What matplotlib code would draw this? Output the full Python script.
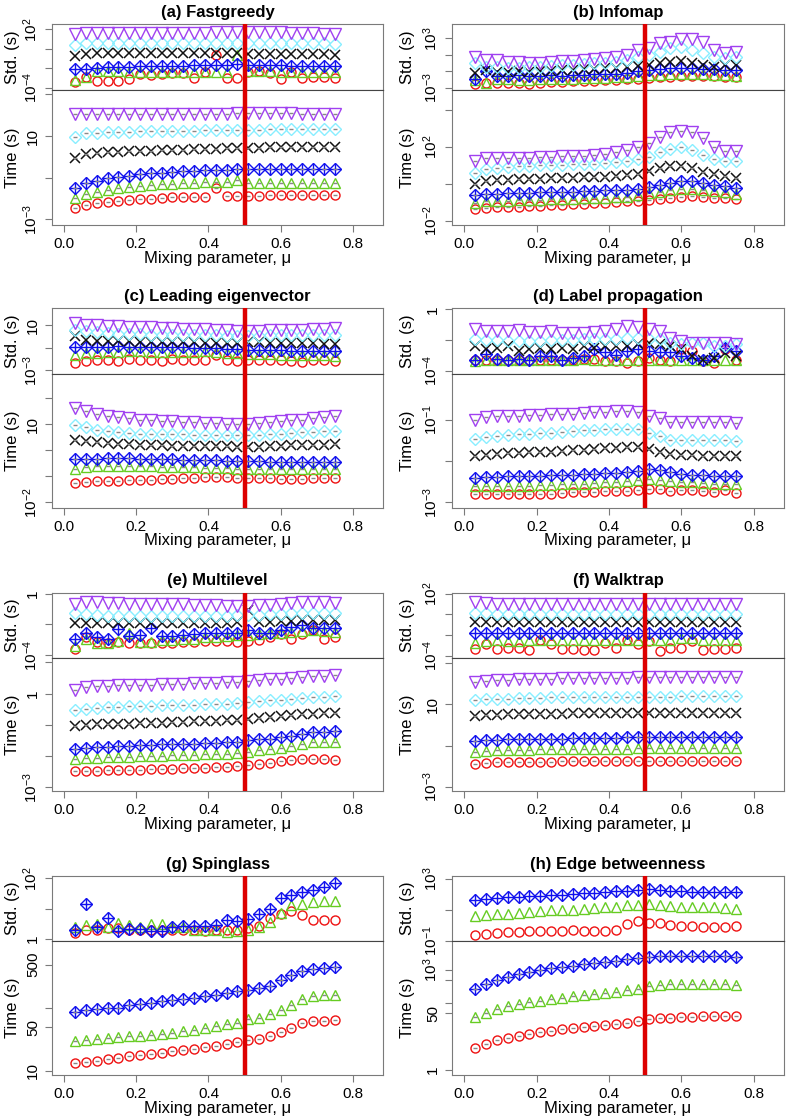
import numpy as np
import matplotlib
matplotlib.use("Agg")
import matplotlib.pyplot as plt
from matplotlib.ticker import NullLocator

plt.rcParams['font.family'] = ['Liberation Sans', 'DejaVu Sans']
plt.rcParams['mathtext.fontset'] = 'custom'
plt.rcParams['mathtext.rm'] = 'Liberation Sans'
plt.rcParams['mathtext.it'] = 'Liberation Sans:italic'
plt.rcParams['mathtext.bf'] = 'Liberation Sans:bold'

# mixing parameter values
mu = [0.03, 0.06, 0.09, 0.12, 0.15, 0.18, 0.21, 0.24, 0.27, 0.30, 0.33, 0.36, 0.39,
      0.42, 0.45, 0.48, 0.51, 0.54, 0.57, 0.60, 0.63, 0.66, 0.69, 0.72, 0.75]

# all values below are log10 of seconds

# (a) Fastgreedy
a_time_purple = [2.04, 2.06, 2.07, 2.06, 2.06, 2.05, 2.05, 2.05, 2.06, 2.06, 2.07, 2.07, 2.07, 2.08, 2.08, 2.10, 2.10, 2.11, 2.12, 2.10, 2.10, 2.08, 2.07, 2.06, 2.05]
a_time_cyan = [0.97, 1.13, 1.16, 1.19, 1.21, 1.21, 1.22, 1.22, 1.24, 1.24, 1.26, 1.26, 1.27, 1.29, 1.29, 1.30, 1.30, 1.30, 1.32, 1.32, 1.32, 1.32, 1.32, 1.32, 1.32]
a_time_black = [-0.07, 0.14, 0.20, 0.23, 0.25, 0.26, 0.28, 0.30, 0.31, 0.33, 0.34, 0.36, 0.38, 0.39, 0.41, 0.42, 0.44, 0.44, 0.46, 0.46, 0.47, 0.47, 0.49, 0.49, 0.49]
a_time_blue = [-1.48, -1.27, -1.14, -1.03, -0.95, -0.90, -0.82, -0.79, -0.76, -0.73, -0.70, -0.66, -0.65, -0.63, -0.62, -0.60, -0.60, -0.60, -0.60, -0.60, -0.60, -0.60, -0.60, -0.60, -0.60]
a_time_green = [-1.99, -1.78, -1.67, -1.59, -1.51, -1.46, -1.40, -1.35, -1.32, -1.29, -1.26, -1.24, -1.21, -1.21, -1.19, -1.11, -1.24, -1.24, -1.24, -1.24, -1.24, -1.24, -1.24, -1.24, -1.24]
a_time_red = [-2.47, -2.31, -2.23, -2.18, -2.14, -2.07, -2.04, -2.01, -1.98, -1.94, -1.91, -1.91, -1.91, -1.48, -1.88, -1.88, -1.86, -1.86, -1.85, -1.85, -1.83, -1.85, -1.85, -1.85, -1.85]
a_std_purple = [1.52, 1.59, 1.62, 1.66, 1.66, 1.66, 1.62, 1.62, 1.62, 1.62, 1.66, 1.66, 1.66, 1.69, 1.69, 1.69, 1.69, 1.73, 1.73, 1.69, 1.66, 1.62, 1.59, 1.55, 1.52]
a_std_cyan = [0.39, 0.56, 0.63, 0.63, 0.63, 0.63, 0.63, 0.63, 0.63, 0.63, 0.63, 0.63, 0.63, 0.63, 0.63, 0.56, 0.63, 0.63, 0.63, 0.63, 0.63, 0.63, 0.63, 0.56, 0.49]
a_std_black = [-0.74, -0.50, -0.47, -0.47, -0.47, -0.47, -0.47, -0.47, -0.47, -0.47, -0.47, -0.47, -0.47, -0.47, -0.47, -0.47, -0.50, -0.50, -0.50, -0.50, -0.50, -0.50, -0.50, -0.55, -0.64]
a_std_blue = [-2.11, -2.05, -1.98, -1.91, -1.84, -1.84, -1.77, -1.77, -1.77, -1.77, -1.74, -1.70, -1.70, -1.67, -1.67, -1.60, -1.67, -1.70, -1.70, -1.70, -1.74, -1.74, -1.74, -1.74, -1.74]
a_std_green = [-3.21, -2.94, -2.25, -2.25, -2.25, -2.35, -2.35, -2.35, -2.35, -2.35, -2.35, -2.35, -2.35, -2.35, -2.35, -0.64, -2.25, -2.25, -2.25, -2.35, -2.35, -2.35, -2.35, -2.35, -2.35]
a_std_red = [-3.38, -2.94, -3.28, -3.28, -3.28, -3.14, -2.59, -2.70, -2.59, -2.53, -2.46, -3.04, -2.35, -0.64, -3.04, -3.04, -2.35, -2.25, -2.46, -3.14, -2.35, -3.04, -2.87, -2.94, -3.04]

# (b) Infomap
b_time_purple = [1.23, 1.38, 1.41, 1.41, 1.41, 1.41, 1.43, 1.45, 1.47, 1.49, 1.51, 1.54, 1.60, 1.69, 1.82, 1.96, 2.18, 2.51, 2.82, 2.84, 2.77, 2.47, 1.96, 1.78, 1.74]
b_time_cyan = [0.59, 0.78, 0.87, 0.92, 0.96, 0.98, 0.99, 1.01, 1.03, 1.05, 1.07, 1.09, 1.12, 1.16, 1.20, 1.32, 1.45, 1.69, 1.87, 1.96, 1.82, 1.56, 1.31, 1.23, 1.20]
b_time_black = [-0.01, 0.14, 0.17, 0.21, 0.23, 0.25, 0.26, 0.28, 0.30, 0.32, 0.34, 0.36, 0.37, 0.41, 0.45, 0.50, 0.68, 0.87, 0.96, 0.98, 0.87, 0.65, 0.50, 0.41, 0.32]
b_time_blue = [-0.59, -0.56, -0.54, -0.52, -0.50, -0.50, -0.48, -0.47, -0.45, -0.43, -0.41, -0.39, -0.37, -0.36, -0.34, -0.27, -0.16, -0.05, 0.05, 0.14, 0.14, 0.05, -0.05, -0.14, -0.23]
b_time_green = [-1.05, -0.96, -0.94, -0.92, -0.90, -0.89, -0.87, -0.85, -0.83, -0.81, -0.79, -0.78, -0.76, -0.74, -0.72, -0.63, -0.52, -0.45, -0.36, -0.28, -0.27, -0.32, -0.41, -0.48, -0.54]
b_time_red = [-1.36, -1.32, -1.29, -1.27, -1.25, -1.23, -1.20, -1.18, -1.14, -1.11, -1.09, -1.05, -1.03, -1.00, -0.96, -0.92, -0.87, -0.81, -0.78, -0.72, -0.69, -0.72, -0.76, -0.78, -0.81]
b_std_purple = [0.77, 0.36, 0.36, 0.16, 0.08, -0.04, -0.04, 0.16, 0.24, 0.24, 0.36, 0.45, 0.57, 0.69, 0.97, 1.58, 1.78, 2.39, 2.59, 2.88, 2.88, 2.59, 1.58, 1.17, 1.38]
b_std_cyan = [-0.04, -0.45, -0.45, -0.65, -0.57, -0.45, -0.45, -0.33, -0.25, -0.25, -0.17, -0.04, 0.04, 0.16, 0.36, 0.77, 0.97, 1.38, 1.78, 1.98, 1.58, 1.17, 0.77, 0.57, 0.69]
b_std_black = [-1.26, -0.85, -1.06, -1.06, -0.98, -1.06, -0.98, -0.93, -0.85, -0.85, -0.77, -0.77, -0.65, -0.65, -0.45, -0.37, -0.25, 0.04, 0.16, 0.28, 0.04, -0.25, -0.45, -0.25, -0.25]
b_std_blue = [-1.99, -0.93, -1.58, -1.58, -1.46, -1.58, -1.58, -1.50, -1.58, -1.50, -1.46, -1.38, -1.34, -1.34, -1.26, -0.98, -0.85, -0.77, -0.65, -0.65, -0.65, -0.77, -0.77, -0.85, -0.85]
b_std_green = [-2.07, -2.47, -1.99, -1.99, -2.07, -2.07, -1.99, -1.99, -1.99, -1.91, -1.87, -1.87, -1.79, -1.74, -1.66, -1.58, -1.46, -1.46, -1.34, -1.34, -1.34, -1.38, -1.46, -1.46, -1.58]
b_std_red = [-2.60, -2.47, -2.39, -2.39, -2.47, -2.55, -2.47, -2.31, -2.27, -2.19, -2.19, -2.15, -2.07, -2.07, -1.99, -1.99, -1.87, -1.74, -1.66, -1.58, -1.58, -1.58, -1.58, -1.66, -1.74]

# (c) Leading eigenvector
c_time_purple = [1.61, 1.51, 1.40, 1.32, 1.27, 1.22, 1.17, 1.14, 1.12, 1.10, 1.09, 1.06, 1.04, 1.04, 1.01, 1.01, 1.00, 1.04, 1.06, 1.10, 1.14, 1.17, 1.23, 1.27, 1.30]
c_time_cyan = [0.95, 0.89, 0.78, 0.72, 0.69, 0.66, 0.63, 0.63, 0.62, 0.61, 0.61, 0.59, 0.59, 0.58, 0.58, 0.57, 0.57, 0.58, 0.61, 0.63, 0.66, 0.68, 0.71, 0.72, 0.72]
c_time_black = [0.38, 0.34, 0.31, 0.27, 0.25, 0.22, 0.21, 0.20, 0.18, 0.17, 0.17, 0.16, 0.15, 0.15, 0.15, 0.13, 0.12, 0.12, 0.15, 0.17, 0.18, 0.20, 0.21, 0.21, 0.22]
c_time_blue = [-0.34, -0.34, -0.33, -0.30, -0.30, -0.31, -0.33, -0.34, -0.34, -0.35, -0.37, -0.37, -0.38, -0.39, -0.40, -0.42, -0.43, -0.43, -0.44, -0.44, -0.44, -0.44, -0.44, -0.44, -0.44]
c_time_green = [-0.72, -0.66, -0.62, -0.60, -0.60, -0.60, -0.61, -0.62, -0.63, -0.65, -0.66, -0.66, -0.67, -0.68, -0.70, -0.71, -0.72, -0.72, -0.74, -0.74, -0.74, -0.74, -0.74, -0.74, -0.74]
c_time_red = [-1.28, -1.23, -1.20, -1.18, -1.17, -1.16, -1.14, -1.13, -1.11, -1.09, -1.08, -1.07, -1.05, -1.05, -1.05, -1.07, -1.07, -1.07, -1.08, -1.09, -1.09, -1.09, -1.08, -1.08, -1.08]
c_std_purple = [1.21, 1.06, 1.00, 0.97, 0.91, 0.88, 0.82, 0.82, 0.76, 0.73, 0.70, 0.70, 0.67, 0.61, 0.56, 0.53, 0.47, 0.53, 0.56, 0.56, 0.61, 0.61, 0.67, 0.70, 0.76]
c_std_cyan = [0.61, 0.47, 0.37, 0.32, 0.26, 0.23, 0.23, 0.17, 0.17, 0.17, 0.14, 0.11, 0.11, 0.11, 0.08, 0.08, 0.05, 0.08, 0.11, 0.11, 0.14, 0.14, 0.14, 0.14, 0.17]
c_std_black = [0.02, -0.27, -0.36, -0.36, -0.42, -0.42, -0.45, -0.48, -0.51, -0.51, -0.51, -0.51, -0.57, -0.57, -0.57, -0.57, -0.51, -0.51, -0.57, -0.57, -0.57, -0.57, -0.57, -0.63, -0.63]
c_std_blue = [-0.96, -0.96, -0.96, -0.90, -0.87, -0.90, -0.93, -0.93, -0.93, -0.96, -0.96, -0.99, -1.02, -1.02, -1.08, -1.10, -1.16, -1.16, -1.22, -1.22, -1.25, -1.25, -1.25, -1.28, -1.31]
c_std_green = [-1.61, -1.46, -1.46, -1.40, -1.34, -1.31, -1.31, -1.34, -1.40, -1.40, -1.37, -1.40, -1.31, -1.40, -1.46, -1.46, -1.52, -1.52, -1.58, -1.61, -1.61, -1.64, -1.64, -1.67, -1.70]
c_std_red = [-2.35, -2.14, -2.11, -2.11, -2.14, -1.99, -2.11, -2.11, -2.14, -1.99, -2.11, -2.11, -2.11, -1.60, -2.11, -2.14, -2.05, -2.05, -2.11, -2.11, -2.14, -2.29, -2.05, -2.05, -2.14]

# (d) Label propagation
d_time_purple = [-1.00, -0.94, -0.92, -0.90, -0.90, -0.89, -0.88, -0.87, -0.86, -0.85, -0.84, -0.82, -0.81, -0.78, -0.78, -0.82, -0.92, -0.96, -1.06, -1.06, -1.06, -1.06, -1.06, -1.06, -1.08]
d_time_cyan = [-1.47, -1.42, -1.39, -1.36, -1.35, -1.34, -1.32, -1.31, -1.29, -1.28, -1.26, -1.24, -1.23, -1.22, -1.22, -1.23, -1.31, -1.39, -1.48, -1.50, -1.50, -1.50, -1.50, -1.50, -1.51]
d_time_black = [-1.87, -1.85, -1.82, -1.81, -1.80, -1.79, -1.77, -1.77, -1.76, -1.74, -1.73, -1.71, -1.69, -1.68, -1.66, -1.65, -1.71, -1.77, -1.82, -1.85, -1.86, -1.87, -1.87, -1.87, -1.89]
d_time_blue = [-2.41, -2.40, -2.39, -2.37, -2.37, -2.37, -2.36, -2.35, -2.34, -2.33, -2.31, -2.31, -2.30, -2.29, -2.27, -2.25, -2.19, -2.23, -2.27, -2.31, -2.33, -2.35, -2.36, -2.36, -2.36]
d_time_green = [-2.61, -2.61, -2.61, -2.61, -2.60, -2.60, -2.59, -2.58, -2.57, -2.56, -2.55, -2.53, -2.52, -2.50, -2.48, -2.47, -2.44, -2.45, -2.48, -2.50, -2.52, -2.53, -2.55, -2.55, -2.56]
d_time_red = [-2.81, -2.81, -2.81, -2.81, -2.81, -2.80, -2.80, -2.79, -2.77, -2.76, -2.75, -2.74, -2.73, -2.73, -2.72, -2.71, -2.68, -2.69, -2.72, -2.71, -2.71, -2.73, -2.76, -2.71, -2.77]
d_std_purple = [-1.29, -1.40, -1.40, -1.40, -1.33, -1.47, -1.47, -1.40, -1.51, -1.51, -1.56, -1.47, -1.40, -1.29, -1.07, -1.18, -1.29, -1.40, -1.84, -2.07, -2.18, -2.22, -2.18, -2.22, -2.29]
d_std_cyan = [-1.91, -2.00, -2.00, -2.07, -2.07, -2.07, -2.07, -2.00, -2.00, -2.00, -1.96, -1.91, -1.91, -1.91, -1.84, -1.84, -1.91, -1.96, -2.18, -2.29, -2.18, -2.22, -2.36, -2.40, -2.29]
d_std_black = [-2.36, -2.62, -2.51, -2.40, -2.73, -2.62, -2.51, -2.62, -2.51, -2.62, -2.40, -2.51, -2.40, -2.40, -2.36, -2.29, -2.18, -2.29, -2.40, -2.62, -3.02, -3.29, -3.18, -2.84, -3.02]
d_std_blue = [-3.29, -2.89, -3.24, -3.29, -3.24, -3.29, -3.02, -3.02, -3.29, -3.18, -3.02, -2.58, -2.80, -2.96, -2.73, -2.58, -2.73, -2.80, -2.80, -3.07, -3.18, -3.29, -3.07, -2.51, -2.73]
d_std_green = [-3.38, -3.29, -3.29, -3.33, -3.33, -3.33, -3.29, -3.29, -3.29, -3.29, -3.24, -3.29, -3.29, -3.29, -3.33, -3.33, -3.29, -3.33, -3.33, -3.33, -3.33, -3.33, -3.33, -3.33, -3.33]
d_std_red = [-3.33, -3.29, -3.29, -3.33, -3.29, -3.33, -3.29, -3.29, -3.29, -3.29, -3.24, -3.24, -3.40, -3.40, -3.51, -3.40, -3.18, -3.29, -3.40, -2.62, -2.73, -3.40, -3.47, -2.62, -3.29]

# (e) Multilevel
e_time_purple = [0.13, 0.21, 0.23, 0.24, 0.26, 0.27, 0.28, 0.29, 0.30, 0.31, 0.32, 0.33, 0.34, 0.35, 0.36, 0.37, 0.39, 0.43, 0.46, 0.48, 0.50, 0.53, 0.55, 0.57, 0.59]
e_time_cyan = [-0.53, -0.48, -0.45, -0.43, -0.43, -0.41, -0.40, -0.39, -0.38, -0.37, -0.36, -0.35, -0.34, -0.33, -0.32, -0.30, -0.27, -0.23, -0.21, -0.19, -0.16, -0.14, -0.12, -0.11, -0.08]
e_time_black = [-1.03, -0.99, -0.98, -0.97, -0.96, -0.96, -0.95, -0.94, -0.93, -0.91, -0.90, -0.89, -0.88, -0.87, -0.86, -0.84, -0.80, -0.77, -0.74, -0.72, -0.69, -0.66, -0.64, -0.62, -0.61]
e_time_blue = [-1.77, -1.73, -1.71, -1.70, -1.68, -1.67, -1.66, -1.65, -1.63, -1.62, -1.61, -1.60, -1.59, -1.57, -1.55, -1.54, -1.49, -1.46, -1.44, -1.38, -1.35, -1.30, -1.24, -1.22, -1.21]
e_time_green = [-2.11, -2.07, -2.05, -2.04, -2.03, -2.02, -2.01, -2.00, -1.99, -1.98, -1.97, -1.96, -1.95, -1.94, -1.93, -1.89, -1.86, -1.81, -1.78, -1.73, -1.68, -1.62, -1.54, -1.54, -1.54]
e_time_red = [-2.48, -2.47, -2.47, -2.46, -2.45, -2.45, -2.44, -2.43, -2.41, -2.40, -2.39, -2.38, -2.37, -2.36, -2.34, -2.32, -2.29, -2.26, -2.21, -2.17, -2.13, -2.10, -2.10, -2.11, -2.12]
e_std_purple = [-0.66, -0.57, -0.57, -0.61, -0.61, -0.66, -0.66, -0.68, -0.68, -0.68, -0.70, -0.72, -0.74, -0.76, -0.79, -0.83, -0.79, -0.74, -0.72, -0.68, -0.61, -0.57, -0.52, -0.55, -0.61]
e_std_cyan = [-1.27, -1.33, -1.38, -1.42, -1.42, -1.44, -1.44, -1.44, -1.44, -1.44, -1.44, -1.44, -1.42, -1.42, -1.42, -1.40, -1.38, -1.38, -1.33, -1.31, -1.27, -1.27, -1.27, -1.27, -1.27]
e_std_black = [-1.92, -1.92, -1.92, -1.92, -1.92, -1.92, -1.92, -1.92, -1.92, -1.92, -1.92, -1.92, -1.92, -1.88, -1.92, -1.81, -1.05, -1.81, -1.81, -1.77, -1.75, -1.70, -1.70, -1.70, -1.70]
e_std_blue = [-2.91, -2.54, -2.84, -2.91, -2.32, -2.75, -2.69, -2.25, -2.75, -2.75, -2.69, -2.62, -2.58, -2.58, -2.54, -2.58, -2.36, -2.58, -2.54, -2.36, -2.14, -2.03, -2.25, -2.25, -2.25]
e_std_green = [-3.41, -2.91, -3.19, -3.19, -3.08, -2.54, -3.13, -3.13, -3.02, -3.02, -2.97, -2.91, -2.84, -2.80, -2.75, -2.71, -2.69, -2.62, -2.58, -2.54, -2.47, -2.40, -2.36, -2.40, -2.47]
e_std_red = [-3.56, -2.84, -3.13, -3.23, -3.13, -3.23, -3.19, -3.23, -3.19, -3.19, -3.13, -3.13, -3.10, -3.08, -3.10, -3.13, -3.06, -3.02, -2.84, -2.62, -2.91, -2.62, -2.36, -2.91, -2.84]

# (f) Walktrap
f_time_purple = [2.09, 2.14, 2.17, 2.20, 2.22, 2.24, 2.25, 2.25, 2.27, 2.27, 2.28, 2.28, 2.30, 2.30, 2.30, 2.32, 2.32, 2.32, 2.33, 2.33, 2.33, 2.33, 2.33, 2.33, 2.33]
f_time_cyan = [1.21, 1.24, 1.26, 1.27, 1.29, 1.30, 1.32, 1.34, 1.34, 1.35, 1.35, 1.37, 1.37, 1.37, 1.38, 1.38, 1.38, 1.38, 1.38, 1.40, 1.40, 1.40, 1.40, 1.40, 1.40]
f_time_black = [0.44, 0.48, 0.50, 0.52, 0.52, 0.53, 0.53, 0.55, 0.55, 0.57, 0.57, 0.57, 0.57, 0.58, 0.58, 0.58, 0.58, 0.58, 0.60, 0.60, 0.60, 0.60, 0.60, 0.60, 0.60]
f_time_blue = [-0.80, -0.75, -0.72, -0.70, -0.69, -0.67, -0.67, -0.66, -0.66, -0.64, -0.64, -0.62, -0.62, -0.62, -0.61, -0.61, -0.61, -0.61, -0.59, -0.59, -0.59, -0.59, -0.57, -0.57, -0.57]
f_time_green = [-1.33, -1.27, -1.23, -1.22, -1.20, -1.20, -1.19, -1.19, -1.17, -1.17, -1.17, -1.15, -1.15, -1.15, -1.15, -1.14, -1.14, -1.14, -1.14, -1.14, -1.14, -1.14, -1.14, -1.14, -1.14]
f_time_red = [-1.92, -1.84, -1.81, -1.80, -1.80, -1.78, -1.78, -1.78, -1.76, -1.76, -1.76, -1.76, -1.76, -1.76, -1.75, -1.75, -1.75, -1.75, -1.75, -1.75, -1.75, -1.73, -1.73, -1.73, -1.73]
f_std_purple = [1.25, 1.09, 1.03, 1.00, 1.00, 1.00, 1.00, 1.00, 1.00, 1.00, 1.00, 1.00, 1.00, 1.00, 1.00, 1.00, 1.00, 1.00, 1.03, 1.03, 1.03, 1.03, 1.03, 1.03, 1.03]
f_std_cyan = [0.18, 0.12, 0.05, 0.05, 0.02, 0.02, 0.02, 0.02, 0.02, 0.02, 0.02, 0.02, 0.02, 0.02, 0.02, 0.02, 0.02, 0.02, 0.02, 0.02, 0.02, 0.02, 0.02, 0.02, 0.02]
f_std_black = [-0.69, -0.76, -0.76, -0.76, -0.76, -0.76, -0.76, -0.76, -0.76, -0.76, -0.76, -0.76, -0.76, -0.76, -0.76, -0.76, -0.76, -0.76, -0.76, -0.76, -0.76, -0.76, -0.76, -0.76, -0.76]
f_std_blue = [-1.83, -1.83, -1.83, -1.83, -1.83, -1.83, -1.83, -1.83, -1.83, -1.83, -1.83, -1.83, -1.83, -1.83, -1.83, -1.83, -1.76, -1.83, -1.83, -1.83, -1.83, -1.83, -1.76, -1.83, -1.83]
f_std_green = [-2.73, -2.57, -2.48, -2.54, -2.54, -2.41, -2.48, -2.48, -2.48, -2.48, -2.48, -2.41, -2.41, -2.41, -2.41, -2.41, -2.41, -2.41, -2.41, -2.31, -2.31, -2.41, -2.48, -2.48, -2.48]
f_std_red = [-3.29, -2.86, -3.29, -3.19, -3.22, -3.45, -2.41, -2.86, -3.29, -3.29, -3.38, -3.38, -2.73, -3.19, -2.48, -2.86, -2.54, -3.51, -3.19, -3.19, -2.54, -3.38, -3.29, -3.29, -3.22]

# (g) Spinglass
g_time_blue = [1.94, 1.98, 1.99, 2.00, 2.01, 2.05, 2.07, 2.09, 2.11, 2.13, 2.15, 2.17, 2.19, 2.21, 2.24, 2.27, 2.30, 2.32, 2.35, 2.46, 2.54, 2.60, 2.63, 2.65, 2.66]
g_time_green = [1.47, 1.49, 1.51, 1.52, 1.54, 1.55, 1.56, 1.57, 1.59, 1.61, 1.64, 1.66, 1.69, 1.72, 1.75, 1.77, 1.83, 1.85, 1.91, 1.98, 2.06, 2.15, 2.20, 2.22, 2.22]
g_time_red = [1.12, 1.14, 1.16, 1.18, 1.20, 1.23, 1.25, 1.27, 1.29, 1.31, 1.33, 1.35, 1.38, 1.40, 1.43, 1.46, 1.49, 1.51, 1.56, 1.62, 1.68, 1.76, 1.80, 1.80, 1.81]
g_std_blue = [0.30, 1.15, 0.37, 0.70, 0.26, 0.33, 0.33, 0.26, 0.26, 0.39, 0.41, 0.41, 0.41, 0.45, 0.63, 0.59, 0.66, 0.83, 0.99, 1.35, 1.46, 1.55, 1.61, 1.70, 1.84]
g_std_green = [0.37, 0.45, 0.50, 0.37, 0.52, 0.45, 0.37, 0.50, 0.50, 0.37, 0.37, 0.30, 0.28, 0.28, 0.22, 0.26, 0.28, 0.37, 0.55, 0.85, 1.10, 1.15, 1.21, 1.26, 1.24]
g_std_red = [0.20, 0.28, 0.30, 0.34, 0.34, 0.30, 0.28, 0.28, 0.30, 0.30, 0.30, 0.30, 0.26, 0.30, 0.28, 0.28, 0.34, 0.41, 0.70, 0.83, 0.93, 0.77, 0.63, 0.63, 0.61]

# (h) Edge betweenness
h_time_blue = [2.43, 2.58, 2.70, 2.80, 2.87, 2.93, 3.00, 3.05, 3.10, 3.13, 3.17, 3.20, 3.24, 3.28, 3.32, 3.35, 3.40, 3.42, 3.43, 3.43, 3.43, 3.43, 3.43, 3.42, 3.40]
h_time_green = [1.58, 1.70, 1.82, 1.92, 1.98, 2.03, 2.08, 2.13, 2.17, 2.21, 2.24, 2.28, 2.32, 2.35, 2.40, 2.44, 2.53, 2.55, 2.57, 2.58, 2.58, 2.57, 2.57, 2.57, 2.56]
h_time_red = [0.67, 0.78, 0.89, 0.97, 1.03, 1.08, 1.13, 1.18, 1.22, 1.27, 1.30, 1.33, 1.36, 1.39, 1.42, 1.46, 1.52, 1.55, 1.57, 1.59, 1.60, 1.61, 1.62, 1.62, 1.62]
h_std_blue = [1.63, 1.69, 1.76, 1.80, 1.84, 1.86, 1.91, 1.95, 1.97, 2.01, 2.05, 2.07, 2.12, 2.18, 2.22, 2.26, 2.33, 2.26, 2.22, 2.18, 2.16, 2.12, 2.12, 2.12, 2.12]
h_std_green = [0.58, 0.64, 0.71, 0.75, 0.79, 0.85, 0.92, 0.96, 1.00, 1.02, 1.06, 1.11, 1.17, 1.21, 1.32, 1.32, 1.38, 1.32, 1.25, 1.21, 1.17, 1.17, 1.17, 1.13, 1.06]
h_std_red = [-0.62, -0.56, -0.47, -0.41, -0.41, -0.37, -0.35, -0.35, -0.35, -0.31, -0.35, -0.35, -0.35, -0.31, 0.07, 0.26, 0.16, 0.16, 0.01, -0.01, -0.03, -0.09, -0.09, -0.09, -0.05]

titles = ['(a) Fastgreedy', '(b) Infomap', '(c) Leading eigenvector', '(d) Label propagation',
          '(e) Multilevel', '(f) Walktrap', '(g) Spinglass', '(h) Edge betweenness']

std_data = [
    dict(red=a_std_red, green=a_std_green, blue=a_std_blue, black=a_std_black, cyan=a_std_cyan, purple=a_std_purple),
    dict(red=b_std_red, green=b_std_green, blue=b_std_blue, black=b_std_black, cyan=b_std_cyan, purple=b_std_purple),
    dict(red=c_std_red, green=c_std_green, blue=c_std_blue, black=c_std_black, cyan=c_std_cyan, purple=c_std_purple),
    dict(red=d_std_red, green=d_std_green, blue=d_std_blue, black=d_std_black, cyan=d_std_cyan, purple=d_std_purple),
    dict(red=e_std_red, green=e_std_green, blue=e_std_blue, black=e_std_black, cyan=e_std_cyan, purple=e_std_purple),
    dict(red=f_std_red, green=f_std_green, blue=f_std_blue, black=f_std_black, cyan=f_std_cyan, purple=f_std_purple),
    dict(red=g_std_red, green=g_std_green, blue=g_std_blue),
    dict(red=h_std_red, green=h_std_green, blue=h_std_blue),
]
time_data = [
    dict(red=a_time_red, green=a_time_green, blue=a_time_blue, black=a_time_black, cyan=a_time_cyan, purple=a_time_purple),
    dict(red=b_time_red, green=b_time_green, blue=b_time_blue, black=b_time_black, cyan=b_time_cyan, purple=b_time_purple),
    dict(red=c_time_red, green=c_time_green, blue=c_time_blue, black=c_time_black, cyan=c_time_cyan, purple=c_time_purple),
    dict(red=d_time_red, green=d_time_green, blue=d_time_blue, black=d_time_black, cyan=d_time_cyan, purple=d_time_purple),
    dict(red=e_time_red, green=e_time_green, blue=e_time_blue, black=e_time_black, cyan=e_time_cyan, purple=e_time_purple),
    dict(red=f_time_red, green=f_time_green, blue=f_time_blue, black=f_time_black, cyan=f_time_cyan, purple=f_time_purple),
    dict(red=g_time_red, green=g_time_green, blue=g_time_blue),
    dict(red=h_time_red, green=h_time_green, blue=h_time_blue),
]

# axis ranges (log10) and ticks (log10 value, label)
std_lims = [(-4.24, 2.55), (-3.28, 4.74), (-3.33, 2.54), (-4.22, 0.09),
            (-4.17, 0.04), (-4.19, 2.07), (-0.08, 2.08), (-1.0, 3.17)]
time_lims = [(-3.27, 3.21), (-2.24, 5.07), (-2.22, 2.92), (-3.14, 0.11),
             (-3.12, 1.14), (-3.21, 3.25), (0.93, 3.08), (-0.15, 3.87)]
std_ticks = [
    [(-4, '$10^{-4}$'), (-2, ''), (0, ''), (2, '$10^{2}$')],
    [(-3, '$10^{-3}$'), (-1, ''), (1, ''), (3, '$10^{3}$')],
    [(-3, '$10^{-3}$'), (-1, ''), (1, '10')],
    [(-4, '$10^{-4}$'), (-2, ''), (0, '1')],
    [(-4, '$10^{-4}$'), (-2, ''), (0, '1')],
    [(-4, '$10^{-4}$'), (-2, ''), (0, ''), (2, '$10^{2}$')],
    [(0, '1'), (1, ''), (2, '$10^{2}$')],
    [(-1, '$10^{-1}$'), (1, ''), (3, '$10^{3}$')],
]
time_ticks = [
    [(-3, '$10^{-3}$'), (-1, ''), (1, '10'), (3, '')],
    [(-2, '$10^{-2}$'), (0, ''), (2, '$10^{2}$'), (4, '')],
    [(-2, '$10^{-2}$'), (-1, ''), (0, ''), (1, '10'), (2, '')],
    [(-3, '$10^{-3}$'), (-2, ''), (-1, '$10^{-1}$')],
    [(-3, '$10^{-3}$'), (-2, ''), (-1, ''), (0, '1'), (1, '')],
    [(-3, '$10^{-3}$'), (-1, ''), (1, '10'), (3, '')],
    [(1, '10'), (np.log10(50), '50'), (2, ''), (np.log10(500), '500')],
    [(0, '1'), (np.log10(50), '50'), (2, ''), (np.log10(500), ''), (3, '$10^{3}$')],
]

series_order = ['red', 'green', 'blue', 'black', 'cyan', 'purple']
colors = dict(red='#ee1111', green='#66cc22', blue='#1111ee', black='#111111',
              cyan='#88eeff', purple='#a040f0')

W, H = 787, 1118
fig = plt.figure(figsize=(W / 100, H / 100), dpi=100)

rows_px = [(24, 90, 225), (308, 374, 508), (593, 658, 791), (876, 941, 1075)]
cols_px = [(52, 383), (452, 784)]
ylab_off = [-32, -37]
frame_col = '#7a7a7a'


def draw_series(ax, name, logvals, dashes):
    y = 10 ** np.array(logvals)
    c = colors[name]
    if name == 'red':
        ax.plot(mu, y, ls='none', marker='o', ms=6.5, mfc='none', mec=c, mew=1.0)
    elif name == 'green':
        ax.plot(mu, y, ls='none', marker='^', ms=7.5, mfc='none', mec=c, mew=1.0)
    elif name == 'blue':
        ax.plot(mu, y, ls='none', marker='D', ms=6, mfc='none', mec=c, mew=1.0)
        ax.plot(mu, y, ls='none', marker='+', ms=8, mec=c, mew=1.0)
    elif name == 'black':
        ax.plot(mu, y, ls='none', marker='x', ms=6.5, mec=c, mew=1.1)
    elif name == 'cyan':
        ax.plot(mu, y, ls='none', marker='D', ms=6.5, mfc='none', mec=c, mew=1.0)
    elif name == 'purple':
        ax.plot(mu, y, ls='none', marker='v', ms=8, mfc='none', mec=c, mew=1.0)
    if dashes:
        ax.plot(mu, y, ls='none', marker='_', ms=3, mec='#888888', mew=1.0)


def style_axis(ax, lims, ticks):
    ax.set_yscale('log')
    ax.set_ylim(10 ** lims[0], 10 ** lims[1])
    ax.set_xlim(-0.034, 0.884)
    ax.set_yticks([10 ** t for t, _ in ticks])
    ax.set_yticklabels([lab for _, lab in ticks])
    ax.yaxis.set_minor_locator(NullLocator())
    ax.tick_params(axis='y', labelrotation=90, labelsize=11, length=5, color=frame_col)
    for side in ax.spines.values():
        side.set_color(frame_col)
    for lab in ax.get_yticklabels():
        lab.set_verticalalignment('center')


for i in range(8):
    row, col = divmod(i, 2)
    top, sep, bot = rows_px[row]
    left, right = cols_px[col]
    x0 = left / W
    w = (right - left) / W

    ax_s = fig.add_axes([x0, 1 - sep / H, w, (sep - top) / H])
    ax_t = fig.add_axes([x0, 1 - bot / H, w, (bot - sep) / H])

    for name in series_order:
        if name in std_data[i]:
            draw_series(ax_s, name, std_data[i][name], False)
            draw_series(ax_t, name, time_data[i][name], True)

    style_axis(ax_s, std_lims[i], std_ticks[i])
    style_axis(ax_t, time_lims[i], time_ticks[i])
    ax_s.set_xticks([])
    ax_s.spines['bottom'].set_color('#444444')
    ax_t.spines['top'].set_color('#444444')

    ax_t.set_xticks([0.0, 0.2, 0.4, 0.6, 0.8])
    ax_t.set_xticklabels(['0.0', '0.2', '0.4', '0.6', '0.8'])
    ax_t.tick_params(axis='x', labelsize=11, length=5, color=frame_col)

    for a in (ax_s, ax_t):
        a.axvline(0.5, color='#dd0000', lw=3.2, zorder=5)

    ax_s.set_ylabel('Std. (s)', fontsize=12)
    ax_t.set_ylabel('Time (s)', fontsize=12)
    ax_s.yaxis.set_label_coords(ylab_off[col] / (right - left), 0.5)
    ax_t.yaxis.set_label_coords(ylab_off[col] / (right - left), 0.5)

    xc = (left + right) / 2 / W
    fig.text(xc, 1 - (top - 12) / H, titles[i], ha='center', va='center',
             fontsize=12, fontweight='bold')
    fig.text(xc, 1 - (bot + 33) / H, 'Mixing parameter, \u03bc', ha='center',
             va='center', fontsize=12)

fig.savefig('out.png', dpi=100)
